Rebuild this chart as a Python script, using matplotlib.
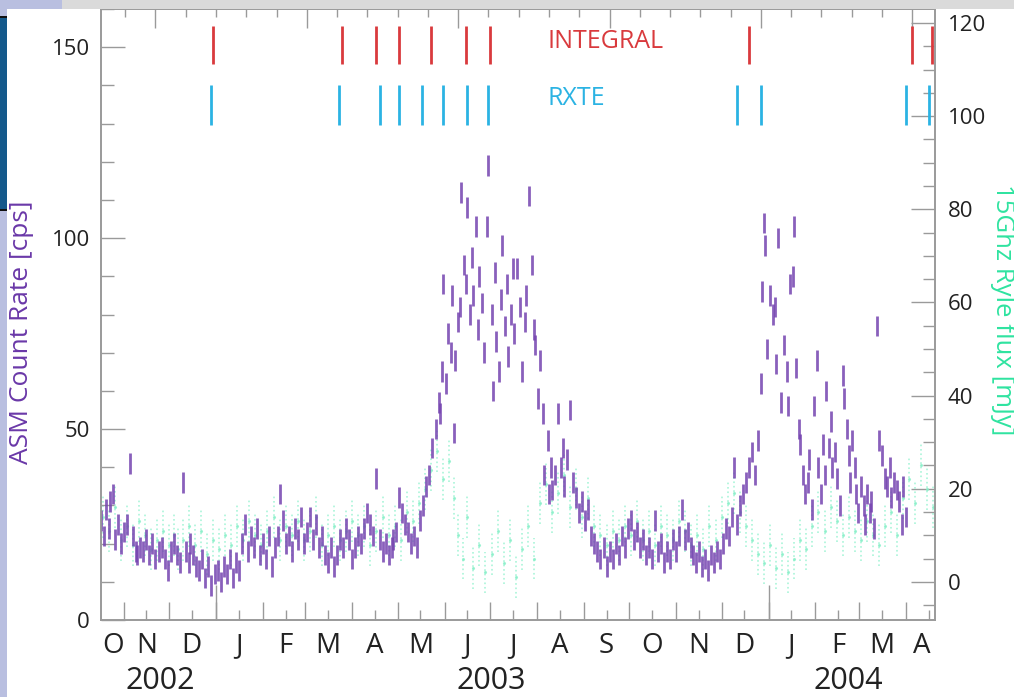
import numpy as np
import matplotlib.pyplot as plt
from matplotlib.patches import Rectangle
from matplotlib.ticker import FixedLocator, NullFormatter, MultipleLocator

plt.rcParams['font.family'] = ['Open Sans', 'DejaVu Sans']

# time axis: days since 2003 Jan 1 (MJD 52640)
MJD0 = 52640

# RXTE/ASM daily count rate [cps]
asm_t = [-76, -74, -73, -71, -70, -68, -67, -65, -63, -61, -59, -57, -55, -53, -52, -50,
         -48, -46, -44, -42, -40, -38, -36, -34, -32, -30, -28, -26, -24, -22, -20, -18,
         -17, -15, -13, -11, -9, -7, -5, -3, -1,
         1, 3, 5, 7, 9, 11, 13, 15, 17, 19, 21, 23, 25, 27, 29, 31, 33, 35, 37, 39, 41,
         42, 44, 46, 48, 50, 52, 54, 56, 58,
         60, 62, 64, 66, 68, 70, 72, 74, 76, 78, 80, 82, 84, 86, 88, 90, 92, 94, 96, 98,
         100, 102, 104, 106, 108, 110, 112, 114, 116, 117, 119, 121, 123, 125, 127, 129,
         131, 133, 135,
         137, 139, 141, 143, 145, 147, 148, 149, 150, 152, 153, 155, 156, 157, 158, 160,
         161, 162, 164, 165, 166, 168, 169, 170, 172, 173, 174, 176, 177, 179, 180, 182,
         183, 184, 185, 187, 188, 189, 191, 192, 193, 195, 196, 197, 199, 201, 202, 204,
         205, 207, 209, 210, 211, 213, 214, 216, 217, 219, 220, 221, 222, 224, 226, 228,
         229, 230, 232, 234, 236, 238, 240, 242, 244, 246, 248, 250, 252,
         254, 256, 258, 260, 262, 264, 266, 268, 270, 272, 274, 276, 278, 280, 282, 284,
         286, 288, 290, 292, 294, 296, 298, 300, 302, 304, 306, 308, 310, 312, 314, 315,
         317, 319, 321, 323, 325, 327, 329, 331, 333, 335, 337, 339,
         341, 342, 344, 346, 348, 350, 352, 354, 356, 358, 360, 361, 362, 363, 364, 366,
         368, 369, 370, 371, 373, 375, 377, 378, 379, 381, 382, 383, 385, 386, 388, 389,
         391, 392, 394, 395, 397, 398, 400, 401, 402, 403, 405, 406, 407, 409, 410, 412,
         414, 415, 417, 418, 419, 420, 422, 423, 424, 426, 428, 429, 430, 432, 433, 435,
         437, 438, 440, 442, 443, 445, 446, 448, 450, 451, 453, 454, 456]
asm_rate = [26, 22, 29, 24, 31, 33, 21, 25, 20, 23, 25, 41, 22, 18, 17, 19,
            18, 21, 17, 20, 16, 18, 19, 16, 13, 18, 20, 17, 15, 36, 18, 15,
            20, 17, 14, 13, 16, 11, 14, 9, 12,
            13, 10, 14, 12, 16, 11, 15, 13, 20, 25, 18, 22, 19, 24, 17, 20, 16, 22, 14, 19, 22,
            33, 26, 20, 22, 18, 24, 21, 27, 20,
            23, 27, 21, 25, 19, 22, 17, 15, 19, 14, 17, 21, 19, 24, 21, 16, 19, 22, 20, 24,
            28, 25, 22, 37, 21, 18, 20, 17, 19, 21, 23, 32, 28, 25, 23, 20,
            22, 19, 26,
            30, 35, 38, 45, 50, 57, 54, 65, 88, 62, 75, 70, 85, 49, 68, 78,
            82, 112, 93, 88, 108, 80, 95, 85, 103, 76, 90, 83, 70, 103, 119, 80,
            60, 91, 73, 65, 84, 98, 77, 88, 69, 80, 92, 75, 92, 82, 65, 78,
            85, 111, 93, 76, 72, 58, 68, 54, 38, 47, 33, 40, 34, 38, 54, 40,
            45, 35, 42, 55, 36, 32, 28, 31, 26, 29, 22, 20, 18,
            16, 19, 14, 18, 16, 20, 17, 22, 19, 24, 26, 21, 23, 19, 21, 17,
            19, 16, 26, 18, 20, 15, 18, 16, 21, 18, 22, 29, 21, 23, 19, 17,
            15, 18, 14, 16, 13, 17, 15, 18, 16, 20, 24, 22,
            27, 40, 25, 30, 33, 36, 40, 44, 38, 47, 62, 86, 104, 98, 71, 85,
            80, 82, 67, 100, 57, 72, 65, 56, 88, 90, 103, 66, 50, 46, 38, 33,
            36, 42, 29, 56, 68, 40, 33, 46, 38, 60, 45, 52, 40, 44, 37, 30,
            64, 58, 50, 43, 36, 47, 40, 33, 28, 35, 30, 25, 33, 28, 31, 24,
            77, 47, 43, 37, 35, 40, 32, 36, 34, 31, 25, 35, 27]

# Ryle telescope 15 GHz flux [mJy]
ryle_t = [-75, -71, -67, -63, -59, -55, -51, -47, -43, -39, -35, -31, -28, -25, -22, -18,
          -14, -10, -6, -2, 2, 6, 10, 14, 18, 22, 26, 30, 34, 38, 42, 46, 50, 54, 58,
          62, 66, 70, 74, 78, 82, 86, 90, 94, 98, 102, 106, 110, 114, 118, 122, 126,
          130, 134, 138, 142, 146, 150, 154, 157, 160, 163, 166, 170, 174, 178, 182,
          186, 190, 194, 198, 202, 206, 210, 214, 218, 222, 226, 230, 234, 238, 242,
          246, 250, 254, 258, 262, 266, 270, 274, 278, 282, 286, 290, 294, 298, 302,
          306, 310, 314, 318, 322, 326, 330, 334, 338, 342, 346, 350, 354, 358, 362,
          366, 370, 374, 378, 382, 386, 390, 394, 398, 402, 406, 410, 414, 418, 422,
          426, 430, 434, 438, 442, 446, 450, 454, 458, 462, 466, 470, 474]
ryle_flux = [14, 11, 16, 9, 12, 8, 13, 10, 7, 9, 11, 8, 10, 7, 9, 12,
             8, 11, 6, 9, 7, 10, 8, 12, 9, 13, 10, 8, 11, 14, 9, 12, 10, 13, 9,
             11, 14, 8, 10, 12, 9, 11, 13, 10, 12, 8, 11, 14, 10, 12, 9, 15,
             13, 17, 20, 24, 28, 22, 26, 18, 10, 5, 14, 3, 8, 2, 6,
             11, 4, 9, 1, 7, 12, 5, 17, 21, 15, 19, 23, 16, 20, 14,
             18, 12, 10, 8, 11, 9, 12, 10, 13, 9, 11, 8, 12, 10, 9,
             13, 11, 8, 10, 7, 12, 9, 14, 17, 19, 15, 12, 9, 6, 4,
             8, 3, 6, 2, 5, 9, 7, 12, 15, 11, 16, 13, 10, 14, 11,
             9, 13, 10, 8, 12, 15, 10, 18, 22, 17, 25, 20, 16]

# pointed observations
integral_t = [-2, 83, 106, 121, 142, 165, 181, 352, 460, 473]
rxte_t = [-3, 81, 108, 121, 136, 150, 166, 180, 344, 360, 456, 471]

month_labels = ['O', 'N', 'D', 'J', 'F', 'M', 'A', 'M', 'J', 'J',
                'A', 'S', 'O', 'N', 'D', 'J', 'F', 'M', 'A']
year_labels = ['2002', '2003', '2004']
year_label_t = [-37, 182, 418]

purple = '#7544b0'
green = '#2fe3a0'
t_min, t_max = -76, 475

fig = plt.figure(figsize=(10.14, 6.97), dpi=100)
fig.patch.set_facecolor('white')
ax = fig.add_axes([101 / 1014, 77 / 697, 834 / 1014, 611 / 697])
ax2 = ax.twinx()
ax.set_zorder(ax2.get_zorder() + 1)
ax.patch.set_visible(False)

# radio points, faint dotted bars behind the X-ray curve
eb = ax2.errorbar(ryle_t, ryle_flux, yerr=4.5, fmt='.', ms=2.5, color='#86f0c8',
                  ecolor='#8ef2cc', elinewidth=1.2, capsize=0, alpha=0.75)
eb[2][0].set_linestyle(':')

ax.errorbar(asm_t, asm_rate, yerr=2.7, fmt='none', ecolor=purple,
            elinewidth=2.0, capsize=0, alpha=0.85)

ax.vlines(integral_t, 145.5, 155.5, color='#d93a3d', lw=2)
ax.vlines(rxte_t, 129.7, 140.2, color='#2bb3e3', lw=2)
ax.text(219, 151.5, 'INTEGRAL', color='#d93a3d', fontsize=18, va='center', ha='left')
ax.text(219, 136.5, 'RXTE', color='#2bb3e3', fontsize=18, va='center', ha='left')

ax.set_xlim(t_min, t_max)
ax.set_ylim(0, 160)
ax2.set_ylim(-8.2, 123)

spine_c = '#9a9a9a'
for a in (ax, ax2):
    for s in a.spines.values():
        s.set_color(spine_c)
        s.set_linewidth(1.2)

# left axis
ax.yaxis.set_major_locator(FixedLocator([0, 50, 100, 150]))
ax.yaxis.set_minor_locator(MultipleLocator(10))
ax.tick_params(axis='y', which='major', direction='in', length=17, width=1, color=spine_c,
               labelsize=16, pad=8, labelcolor='#222222')
ax.tick_params(axis='y', which='minor', direction='in', length=9, width=1, color=spine_c)

# right axis
ax2.yaxis.set_major_locator(MultipleLocator(20))
ax2.yaxis.set_minor_locator(MultipleLocator(5))
ax2.tick_params(axis='y', which='major', direction='in', length=17, width=1, color=spine_c,
                labelsize=16, pad=9, labelcolor='#222222')
ax2.tick_params(axis='y', which='minor', direction='in', length=9, width=1, color=spine_c)

# bottom axis: month starts, mid-months, year starts
months = np.arange('2002-10', '2004-06', dtype='datetime64[M]')
month_start = (months.astype('datetime64[D]') - np.datetime64('2003-01-01')).astype(int)
ax.xaxis.set_major_locator(FixedLocator(month_start))
ax.xaxis.set_minor_locator(FixedLocator(month_start + 15))
ax.xaxis.set_major_formatter(NullFormatter())
ax.tick_params(axis='x', which='major', direction='in', length=13, width=1, color=spine_c)
ax.tick_params(axis='x', which='minor', direction='in', length=7, width=1, color=spine_c)
ax.tick_params(axis='x', top=False, which='both')

years = np.arange('2003', '2005', dtype='datetime64[Y]')
year_start = (years.astype('datetime64[D]') - np.datetime64('2003-01-01')).astype(int)
axy = ax.secondary_xaxis('bottom')
axy.xaxis.set_major_locator(FixedLocator(year_start))
axy.xaxis.set_major_formatter(NullFormatter())
axy.tick_params(direction='in', length=25, width=1, color=spine_c)
axy.spines['bottom'].set_visible(False)

# top axis in MJD
mjd = ax.secondary_xaxis('top', functions=(lambda t: t + MJD0, lambda m: m - MJD0))
mjd.xaxis.set_major_locator(MultipleLocator(100))
mjd.xaxis.set_minor_locator(MultipleLocator(20))
mjd.xaxis.set_major_formatter(NullFormatter())
mjd.tick_params(which='major', direction='in', length=14, width=1, color=spine_c)
mjd.tick_params(which='minor', direction='in', length=6, width=1, color=spine_c)
mjd.spines['top'].set_visible(False)

# month and year labels
for lab, t0 in zip(month_labels, month_start[:len(month_labels)]):
    tx = min(max(t0 + 15, t_min + 8), t_max - 9)
    ax.text(tx, -0.042, lab, transform=ax.get_xaxis_transform(), ha='center', va='center',
            fontsize=20, color='#222222')
for lab, tx in zip(year_labels, year_label_t):
    ax.text(tx, -0.1, lab, transform=ax.get_xaxis_transform(), ha='center', va='center',
            fontsize=22, color='#222222')

fig.text(22 / 1014, 1 - 332 / 697, 'ASM Count Rate [cps]', rotation=90, ha='center',
         va='center', fontsize=19, color='#6a38a8')
fig.text(1002 / 1014, 1 - 310 / 697, '15Ghz Ryle flux [mJy]', rotation=270, ha='center',
         va='center', fontsize=18.5, color=green)

# window frame around the plot
def px_rect(x0, y0, x1, y1, color):
    fig.patches.append(Rectangle((x0 / 1014, 1 - y1 / 697), (x1 - x0) / 1014, (y1 - y0) / 697,
                                 transform=fig.transFigure, color=color, lw=0, zorder=5))

px_rect(62, 0, 1014, 9, '#dadada')
px_rect(0, 0, 62, 9, '#b9bfe0')
px_rect(0, 0, 7, 697, '#b9bfe0')
px_rect(0, 17, 7, 210, '#14598b')
px_rect(0, 16, 7, 18, '#111111')
px_rect(0, 209, 7, 211, '#111111')

fig.savefig('out.png', dpi=100)
